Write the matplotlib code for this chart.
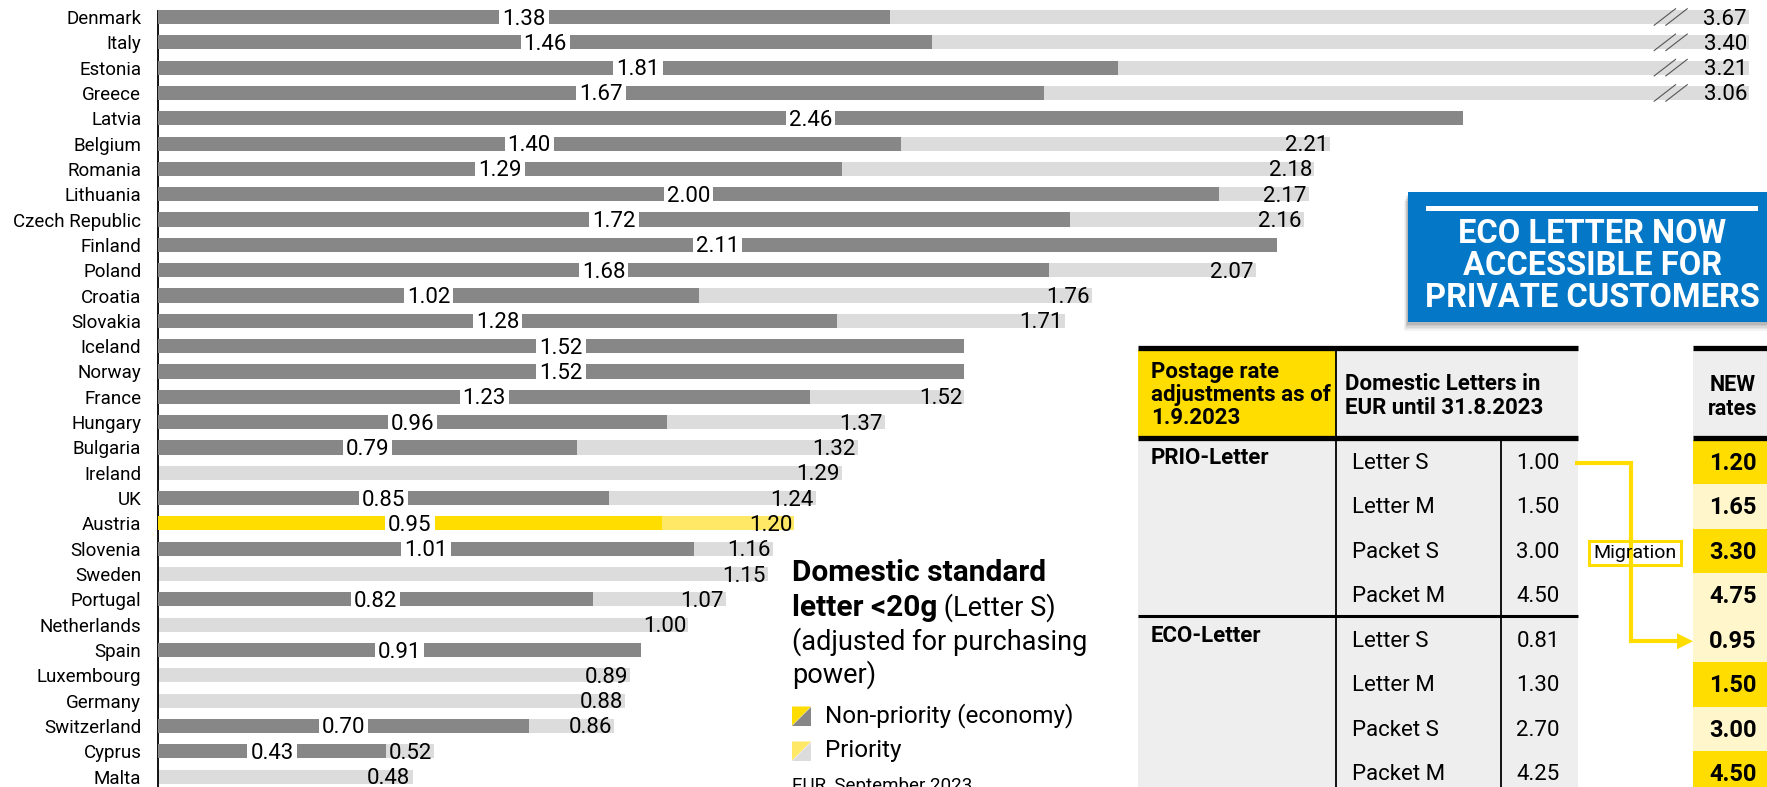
import numpy as np
import matplotlib
matplotlib.use("Agg")
import matplotlib.pyplot as plt
from matplotlib.patches import Rectangle, Polygon

plt.rcParams['font.family'] = ['Roboto', 'DejaVu Sans']

# ---- data -------------------------------------------------------------
countries = ["Denmark", "Italy", "Estonia", "Greece", "Latvia", "Belgium", "Romania",
             "Lithuania", "Czech Republic", "Finland", "Poland", "Croatia", "Slovakia",
             "Iceland", "Norway", "France", "Hungary", "Bulgaria", "Ireland", "UK",
             "Austria", "Slovenia", "Sweden", "Portugal", "Netherlands", "Spain",
             "Luxembourg", "Germany", "Switzerland", "Cyprus", "Malta"]
economy = [1.38, 1.46, 1.81, 1.67, 2.46, 1.40, 1.29, 2.00, 1.72, 2.11, 1.68, 1.02, 1.28,
           1.52, 1.52, 1.23, 0.96, 0.79, np.nan, 0.85, 0.95, 1.01, np.nan, 0.82, np.nan,
           0.91, np.nan, np.nan, 0.70, 0.43, np.nan]
priority = [3.67, 3.40, 3.21, 3.06, np.nan, 2.21, 2.18, 2.17, 2.16, np.nan, 2.07, 1.76,
            1.71, np.nan, np.nan, 1.52, 1.37, 1.32, 1.29, 1.24, 1.20, 1.16, 1.15, 1.07,
            1.00, np.nan, 0.89, 0.88, 0.86, 0.52, 0.48]
highlight = "Austria"
axis_cap = 3.0          # bars longer than this are drawn broken

products = ["Letter S", "Letter M", "Packet S", "Packet M"]
prio_old = [1.00, 1.50, 3.00, 4.50]
eco_old = [0.81, 1.30, 2.70, 4.25]
prio_new = [1.20, 1.65, 3.30, 4.75]
eco_new = [0.95, 1.50, 3.00, 4.50]

# ---- style ------------------------------------------------------------
DARK = "#878787"
LIGHT = "#dcdcdc"
YEL = "#ffdd00"
YEL_LIGHT = "#ffe866"
YEL_PALE = "#fff6cc"
TABLE_BG = "#eeeeee"
BLUE = "#0478c7"

W, H = 1767, 787
fig = plt.figure(figsize=(W / 100, H / 100), dpi=100)

# ---- bar chart -----------------------------------------------------------
x0_px = 158
px_per_eur = 530.4
row_px = 25.32
first_row_px = 17.0
ax = fig.add_axes([x0_px / W, 0, (W - x0_px) / W, 1])
ax.set_xlim(0, (W - x0_px) / px_per_eur)
ax.set_ylim(30 + (H - first_row_px - 30 * row_px) / row_px, -first_row_px / row_px)
ax.patch.set_visible(False)
for s in ("top", "right", "bottom"):
    ax.spines[s].set_visible(False)
ax.spines["left"].set_linewidth(1.3)
ax.spines["left"].set_bounds(-0.24, 31)
ax.set_xticks([])
ypos = np.arange(len(countries))
ax.set_yticks(ypos)
ax.set_yticklabels(countries, fontsize=13.5)
ax.tick_params(axis="y", length=0, pad=12)

eco = np.array(economy)
pri = np.array(priority)
pri_disp = np.minimum(pri, axis_cap)
light_cols = [YEL_LIGHT if c == highlight else LIGHT for c in countries]
dark_cols = [YEL if c == highlight else DARK for c in countries]
bh = 0.56
ax.barh(ypos, np.nan_to_num(pri_disp), height=bh, color=light_cols, zorder=2)
ax.barh(ypos, np.nan_to_num(eco), height=bh, color=dark_cols, zorder=3)

eco_labels = []
for i in ypos:
    if not np.isnan(eco[i]):
        t = ax.text(eco[i] / 2, i + 0.08, f"{eco[i]:.2f}", ha="center", va="center",
                    fontsize=16, zorder=6)
        eco_labels.append((i, t))
    if not np.isnan(pri[i]):
        ax.text(pri_disp[i] - 0.004, i + 0.08, f"{pri[i]:.2f}", ha="right", va="center",
                fontsize=16, zorder=6)
        if pri[i] > axis_cap:
            for dx in (0.0, 0.022):
                bx = axis_cap - 0.18 + dx
                ax.plot([bx, bx + 0.042], [i + 0.34, i - 0.34], color="#555555",
                        lw=0.8, zorder=5, solid_capstyle="butt")

# white gap in the economy bar behind each of its labels
fig.canvas.draw()
renderer = fig.canvas.get_renderer()
inv = ax.transData.inverted()
for i, t in eco_labels:
    bb = t.get_window_extent(renderer)
    (xa, _), (xb, _) = inv.transform([(bb.x0 - 3, bb.y0), (bb.x1 + 3, bb.y1)])
    ax.barh(i, xb - xa, left=xa, height=bh + 0.04, color="white", zorder=4)

# ---- overlay in pixel coordinates -------------------------------------------
ov = fig.add_axes([0, 0, 1, 1])
ov.set_xlim(0, W)
ov.set_ylim(H, 0)
ov.axis("off")
ov.patch.set_visible(False)


def rect(x0, y0, x1, y1, **kw):
    ov.add_patch(Rectangle((x0, y0), x1 - x0, y1 - y0, **kw))


# legend / caption block
tx = 792
ov.text(tx, 573, "Domestic standard", fontsize=21.5, fontweight="bold", va="center")
t = ov.text(tx, 608, "letter <20g", fontsize=21.5, fontweight="bold", va="center")
ov.annotate(" (Letter S)", xy=(1, 0), xycoords=t, fontsize=19.5, va="bottom")
ov.text(tx, 642, "(adjusted for purchasing", fontsize=19.5, va="center")
ov.text(tx, 675, "power)", fontsize=19.5, va="center")

for k, (c1, c2, lab) in enumerate([(YEL, DARK, "Non-priority (economy)"),
                                   (YEL_LIGHT, LIGHT, "Priority")]):
    yc = 716 + k * 35
    s = 19
    ov.add_patch(Polygon([(tx, yc - s / 2), (tx + s, yc - s / 2), (tx, yc + s / 2)],
                         closed=True, fc=c1, ec="none"))
    ov.add_patch(Polygon([(tx + s, yc - s / 2), (tx + s, yc + s / 2), (tx, yc + s / 2)],
                         closed=True, fc=c2, ec="none"))
    ov.text(tx + 33, yc, lab, fontsize=17.5, va="center")
ov.text(tx, 777, "EUR, September 2023", fontsize=13.5, va="top")

# blue call-out with soft shadow
bx0, by0, bx1, by1 = 1408, 192, W + 5, 322
for k, a in enumerate([0.05, 0.05, 0.06, 0.07, 0.08]):
    off = 9 - k * 1.6
    rect(bx0 - off * 0.4, by0 + off, bx1, by1 + off, fc="#000000", ec="none", alpha=a)
rect(bx0, by0, bx1, by1, fc=BLUE, ec="none")
rect(1426, 206, 1758, 211, fc="white", ec="none")
for yy, line in zip([234, 266, 298], ["ECO LETTER NOW", "ACCESSIBLE FOR", "PRIVATE CUSTOMERS"]):
    ov.text(1592, yy, line, fontsize=23.5, fontweight="bold", color="white",
            ha="center", va="center")

# old-rates table
L, V1, V2, R = 1138, 1336, 1501, 1578
top, hdr = 350, 438
row_h = 44.5
eco_top = hdr + 4 * row_h
rect(L, top, R, H, fc=TABLE_BG, ec="none")
rect(L, top, V1, hdr, fc=YEL, ec="none")
ov.plot([L, R], [top - 2.5, top - 2.5], color="black", lw=3.8, solid_capstyle="butt")
ov.plot([L, R], [hdr, hdr], color="black", lw=3.8, solid_capstyle="butt")
ov.plot([L, R], [eco_top, eco_top], color="black", lw=2.2, solid_capstyle="butt")
ov.plot([V1, V1], [top, H], color="black", lw=1.3)
ov.plot([V2, V2], [hdr, H], color="black", lw=1.3)

ov.text(1151, 395, "Postage rate\nadjustments as of\n1.9.2023", fontsize=16,
        fontweight="bold", va="center", linespacing=1.08)
ov.text(1345, 396, "Domestic Letters in\nEUR until 31.8.2023", fontsize=16,
        fontweight="bold", va="center", linespacing=1.12)

for sec, (name, vals) in enumerate([("PRIO-Letter", prio_old), ("ECO-Letter", eco_old)]):
    y_sec = hdr + sec * 4 * row_h
    ov.text(1151, y_sec + 20, name, fontsize=16, fontweight="bold", va="center")
    for r, (prod, v) in enumerate(zip(products, vals)):
        yc = y_sec + (r + 0.5) * row_h + 3
        ov.text(1352, yc, prod, fontsize=16, va="center")
        ov.text(1538, yc, f"{v:.2f}", fontsize=16, va="center", ha="center")

# new-rates column
N0, N1 = 1693, W
rect(N0, top, N1, hdr, fc=TABLE_BG, ec="none")
ov.plot([N0, N1], [top - 2.5, top - 2.5], color="black", lw=3.8, solid_capstyle="butt")
ov.plot([N0, N1], [hdr, hdr], color="black", lw=3.8, solid_capstyle="butt")
ov.text(1733, 397, "NEW\nrates", fontsize=15.5, fontweight="bold", ha="center",
        va="center", linespacing=1.1)
new_vals = prio_new + eco_new
shades = [YEL, YEL_PALE, YEL, YEL_PALE, YEL_PALE, YEL, YEL_PALE, YEL]
for r, (v, sh) in enumerate(zip(new_vals, shades)):
    y0 = hdr + 1.9 + r * row_h
    rect(N0, y0, N1, y0 + row_h, fc=sh, ec="none")
    ov.text(1733, y0 + row_h / 2 + 1, f"{v:.2f}", fontsize=17, fontweight="bold",
            ha="center", va="center")

# migration connector: old priority Letter S -> new eco Letter S
y_from = hdr + 0.5 * row_h + 3
y_to = eco_top + 0.5 * row_h + 3
xv = 1631
ov.plot([1575, xv, xv, N0 - 14], [y_from, y_from, y_to, y_to], color=YEL, lw=3,
        solid_joinstyle="miter", solid_capstyle="butt")
ov.add_patch(Polygon([(N0 - 16, y_to - 8), (N0, y_to), (N0 - 16, y_to + 8)],
                     closed=True, fc=YEL, ec="none"))
rect(1589, 541, 1681, 565, fc="white", ec=YEL, lw=2.2)
ov.text(1635, 553, "Migration", fontsize=14, ha="center", va="center")

fig.savefig("out.png", dpi=100)
